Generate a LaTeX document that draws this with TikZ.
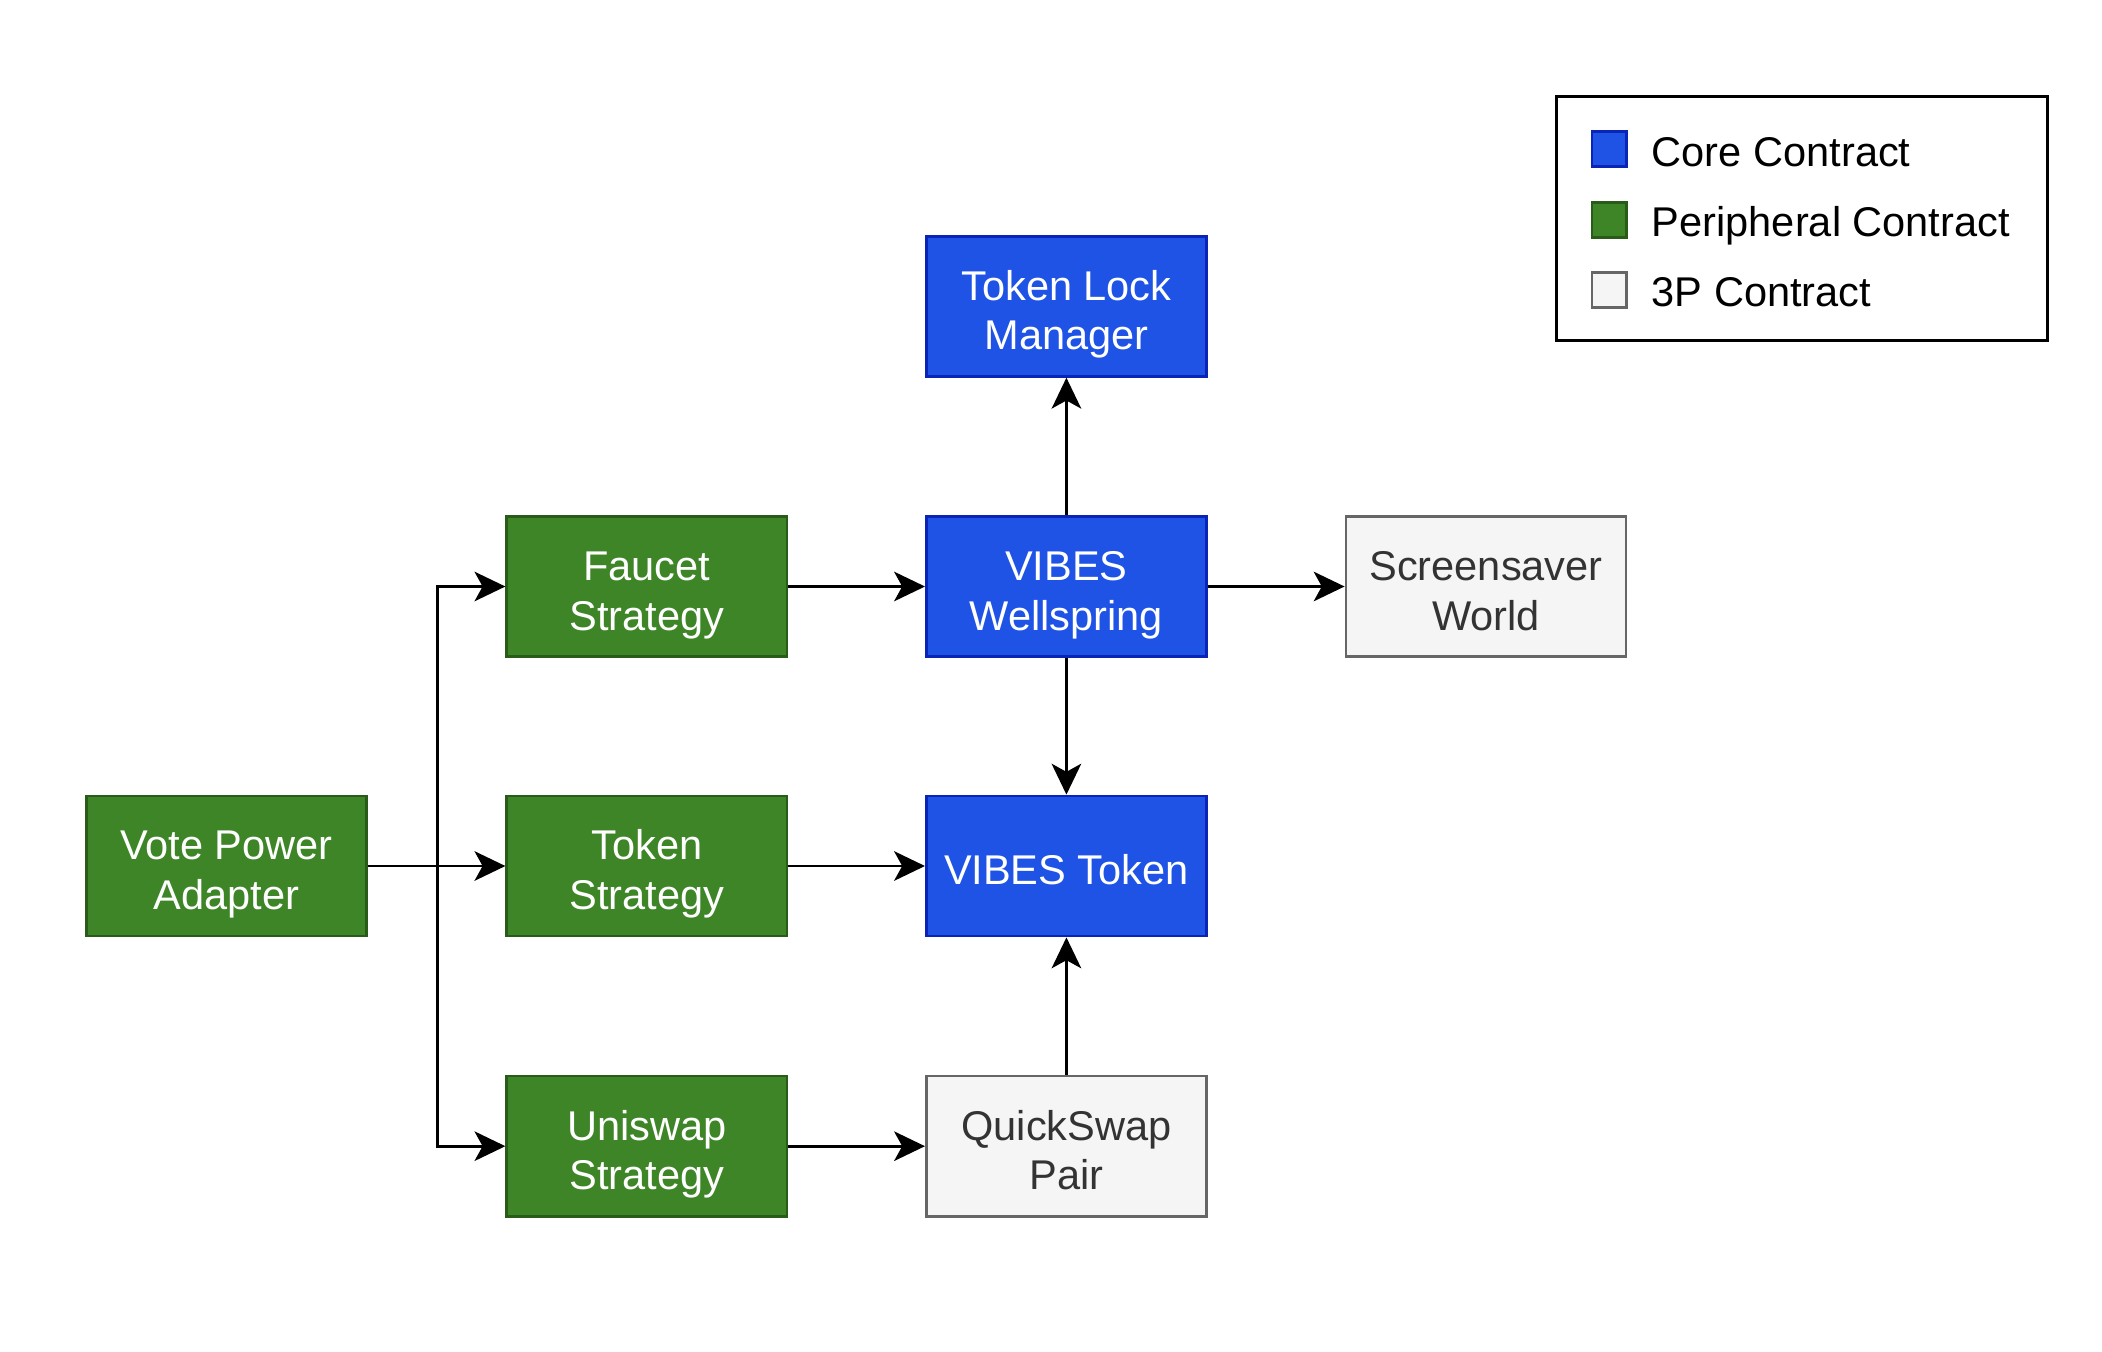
\documentclass[tikz,border=0pt]{standalone}
\usepackage{fontspec}
\setmainfont{Liberation Sans}
\usetikzlibrary{arrows.meta}
\definecolor{corefill}{HTML}{1E53E5}
\definecolor{coredraw}{HTML}{0A24B8}
\definecolor{perfill}{HTML}{3D8526}
\definecolor{perdraw}{HTML}{295C19}
\definecolor{tpfill}{HTML}{F5F5F5}
\definecolor{tpdraw}{HTML}{666666}
\definecolor{tptext}{HTML}{333333}
\newcommand{\tstrut}{\rule{0pt}{36pt}}
\newcommand{\bstrut}{\rule[-8pt]{0pt}{8pt}}
\begin{document}
\begin{tikzpicture}[x=1pt,y=-1pt,
  box/.style={rectangle, minimum width=209pt, minimum height=104.5pt, inner sep=0pt, align=center,
    font=\fontsize{31}{37}\selectfont, line width=2pt},
  core/.style={box, fill=corefill, draw=coredraw, text=white},
  peri/.style={box, fill=perfill, draw=perdraw, text=white},
  third/.style={box, fill=tpfill, draw=tpdraw, text=tptext},
  conn/.style={line width=2.2pt, -{Stealth[length=23pt, width=22pt, inset=6pt]}},
  swatch/.style={rectangle, minimum size=26pt, inner sep=0pt, line width=2pt},
  legtext/.style={anchor=base west, inner sep=0pt, font=\fontsize{31}{37}\selectfont}
]
\useasboundingbox (0,0) rectangle (1568,1008.5);
% nodes
\node[core] (tlm) at (795.5,228.5) {\tstrut Token Lock\\Manager\bstrut};
\node[peri] (faucet) at (482.5,437.5) {\tstrut Faucet\\Strategy\bstrut};
\node[core] (well) at (795.5,437.5) {\tstrut VIBES\\Wellspring\bstrut};
\node[third] (screen) at (1108.5,437.5) {\tstrut Screensaver\\World\bstrut};
\node[peri] (vpa) at (169,646) {\tstrut Vote Power\\Adapter\bstrut};
\node[peri] (tstrat) at (482.5,646) {\tstrut Token\\Strategy\bstrut};
\node[core] (vtoken) at (795.5,646) {\tstrut VIBES Token\bstrut};
\node[peri] (uni) at (482.5,855) {\tstrut Uniswap\\Strategy\bstrut};
\node[third] (qs) at (795.5,855) {\tstrut QuickSwap\\Pair\bstrut};
% connectors
\coordinate (split) at (326,646);
\draw[conn] (vpa.east) -- (tstrat.west);
\draw[conn] (vpa.east) -- (split) |- (faucet.west);
\draw[conn] (vpa.east) -- (split) |- (uni.west);
\draw[conn] (faucet.east) -- (well.west);
\draw[conn] (well.north) -- (tlm.south);
\draw[conn] (well.east) -- (screen.west);
\draw[conn] (well.south) -- (vtoken.north);
\draw[conn] (tstrat.east) -- (vtoken.west);
\draw[conn] (uni.east) -- (qs.west);
\draw[conn] (qs.north) -- (vtoken.south);
% legend
\node[draw=black, line width=2.2pt, rectangle, minimum width=366pt, minimum height=182pt, inner sep=0pt] (legend) at (1344,163) {};
\node[swatch, fill=corefill, draw=coredraw] (s1) at (1200.5,111) {};
\node[swatch, fill=perfill, draw=perdraw] (s2) at (1200.5,164) {};
\node[swatch, fill=tpfill, draw=tpdraw] (s3) at (1200.5,216.5) {};
\node[legtext] (l1) at (1232,124.5) {Core Contract};
\node[legtext] (l2) at (1232,176.5) {Peripheral Contract};
\node[legtext] (l3) at (1232,229) {3P Contract};
\end{tikzpicture}
\end{document}
